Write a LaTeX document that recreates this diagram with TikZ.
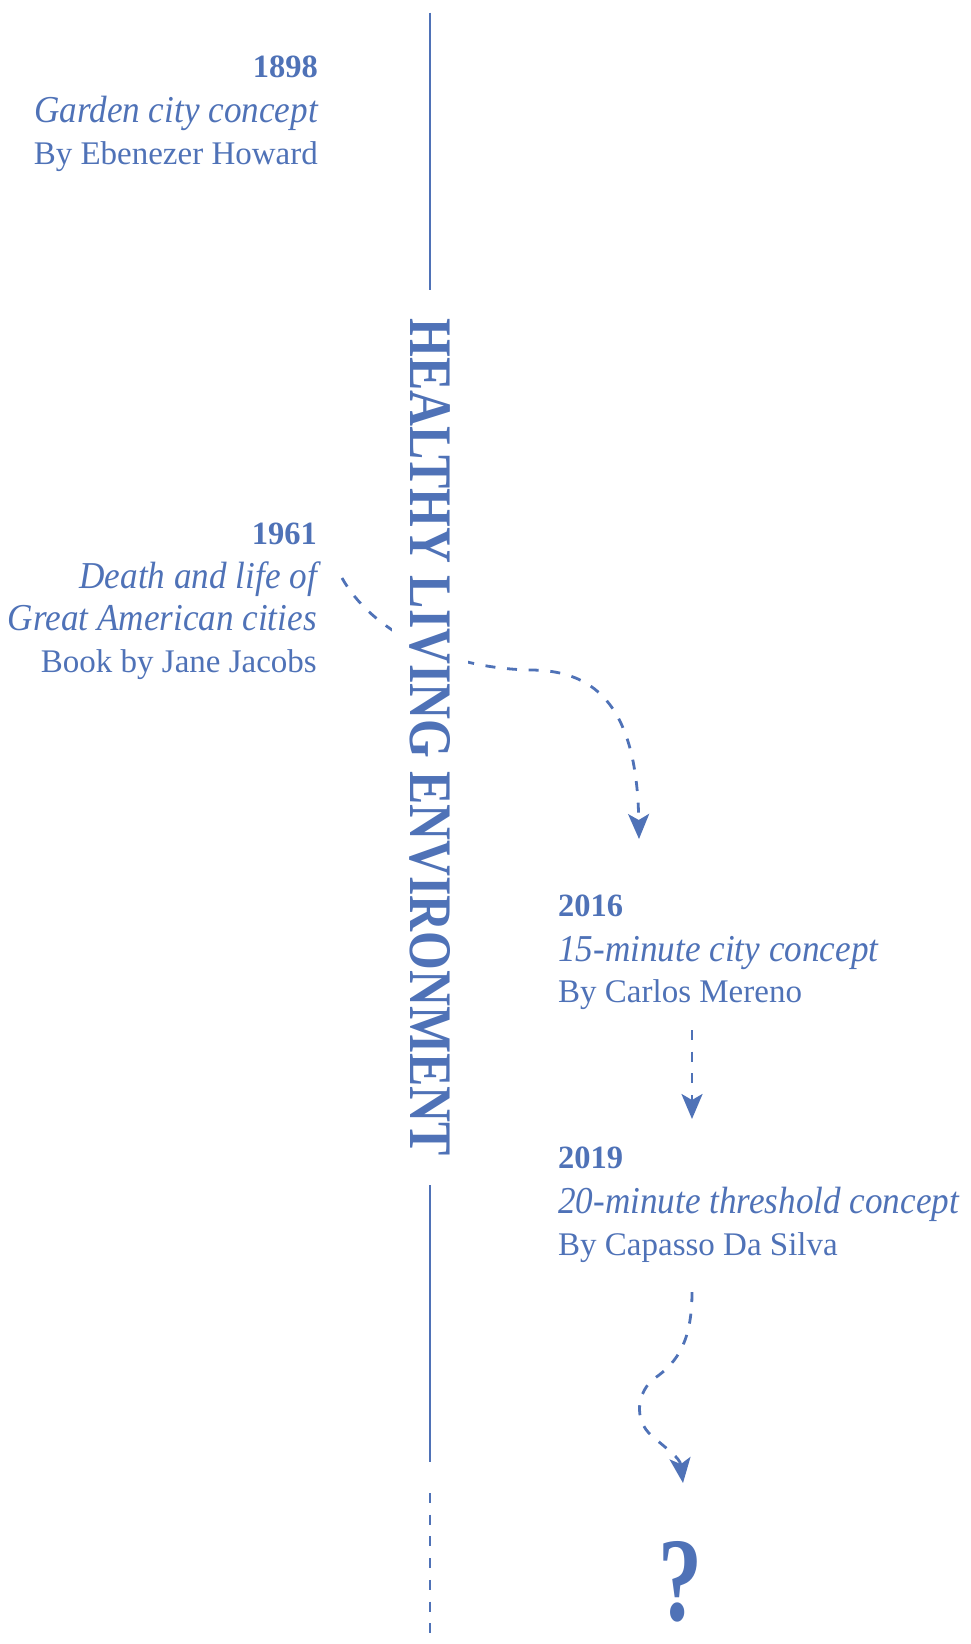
\documentclass[tikz,border=0pt]{standalone}
\usepackage{fontspec}
\usepackage{graphicx}
\setmainfont{Liberation Serif}
\usetikzlibrary{arrows.meta,backgrounds}
\definecolor{timeline}{RGB}{79,114,183}

% text styles of the entries
\newcommand{\yr}[1]{{\fontsize{32.5}{38}\selectfont\bfseries #1}}
\newcommand{\ttl}[1]{{\fontsize{38}{44}\selectfont\itshape\scalebox{0.925}[1]{#1}}}
\newcommand{\who}[1]{{\fontsize{33}{39}\selectfont #1}}

\begin{document}
\begin{tikzpicture}[x=1pt, y=-1pt,
  every node/.style={text=timeline, inner sep=0pt},
  axis/.style={draw=timeline, line width=2.8pt},
  flow/.style={draw=timeline, line width=2.8pt, dash pattern=on 10pt off 11.7pt,
    -{Stealth[length=25pt, width=21pt, inset=6pt]}},
]
\useasboundingbox (0,0) rectangle (971,1644);

% ---- entries left of the axis
\node[anchor=base east] (y1898) at (318,77)  {\yr{1898}};
\node[anchor=base east] (t1898) at (318,122) {\ttl{Garden city concept}};
\node[anchor=base east] (a1898) at (318,164) {\who{By Ebenezer Howard}};

\node[anchor=base east] (y1961)  at (317,544) {\yr{1961}};
\node[anchor=base east] (t1961a) at (317,588) {\ttl{Death and life of}};
\node[anchor=base east] (t1961b) at (317,630) {\ttl{Great American cities}};
\node[anchor=base east] (a1961)  at (317,672) {\who{Book by Jane Jacobs}};

% ---- entries right of the axis
\node[anchor=base west] (y2016) at (558,916)  {\yr{2016}};
\node[anchor=base west] (t2016) at (558,961)  {\ttl{15-minute city concept}};
\node[anchor=base west] (a2016) at (558,1002) {\who{By Carlos Mereno}};

\node[anchor=base west] (y2019) at (558,1168) {\yr{2019}};
\node[anchor=base west] (t2019) at (558,1213) {\ttl{20-minute threshold concept}};
\node[anchor=base west] (a2019) at (558,1255) {\who{By Capasso Da Silva}};

\node[anchor=south] (q) at (680.5,1622) {\resizebox{44pt}{79pt}{\bfseries ?}};

% ---- the axis and its title
\node[rotate=-90, fill=white, inner xsep=29pt, inner ysep=18pt] (title) at (430,737.5)
  {\resizebox{837pt}{40pt}{\bfseries HEALTHY LIVING ENVIRONMENT}};

\coordinate (axtop)   at (430,12.6);
\coordinate (axsolid) at (430,1462);
\coordinate (axdash)  at (430,1493);
\coordinate (axbot)   at (430,1644);
\draw[axis] (axtop) -- (title.west);
\draw[axis] (title.east) -- (axsolid);
\draw[axis, dash pattern=on 10pt off 11.7pt] (axdash) -- (axbot);

% ---- dashed links between the entries
\coordinate (l1s) at (342,578);
\coordinate (l1e) at (639,839);
\coordinate (l2s) at (692,1030);
\coordinate (l2e) at (692,1119);
\coordinate (l3s) at (692,1292);
\coordinate (l3e) at (683,1483);

\begin{scope}[on background layer]
  \draw[flow] (l1s) .. controls (370,628) and (440,668) .. (530,670)
                    .. controls (590,670) and (637,700) .. (l1e);
\end{scope}
\draw[flow] (l2s) -- (l2e);
\draw[flow] (l3s) .. controls (692,1340) and (678,1362) .. (655,1378)
                  .. controls (637,1391) and (633,1420) .. (652,1436)
                  .. controls (667,1449) and (680,1458) .. (l3e);
\end{tikzpicture}
\end{document}
